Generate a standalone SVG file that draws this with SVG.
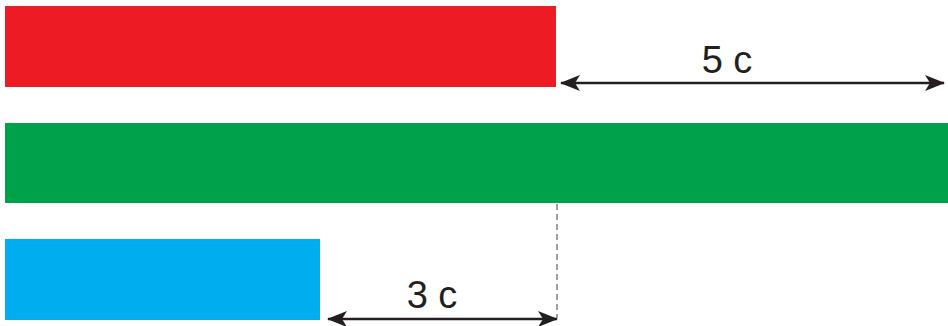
<svg xmlns="http://www.w3.org/2000/svg" width="948" height="326" viewBox="0 0 948 326">
<defs>
<marker id="ah" viewBox="0 0 20 16" refX="19" refY="8" markerWidth="20" markerHeight="16" markerUnits="userSpaceOnUse" orient="auto-start-reverse">
<path d="M0,0 L20,8 L0,16 L5,8 Z" fill="#231f20"/>
</marker>
</defs>
<style>
.lbl{font-family:"Liberation Sans",Arial,sans-serif;font-size:38px;fill:#231f20;text-anchor:middle}
.dim{stroke:#231f20;stroke-width:2.5;fill:none}
</style>
<rect width="948" height="326" fill="#fff"/>
<g id="red"><rect x="5" y="6" width="551" height="81" fill="#ed1c24"/></g>
<g id="green"><rect x="5" y="123" width="943" height="80" fill="#00a14b"/></g>
<g id="blue"><rect x="5" y="239" width="315" height="81" fill="#00aeef"/></g>
<g id="connectors">
<line x1="557" y1="204" x2="557" y2="318" stroke="#808080" stroke-width="1.5" stroke-dasharray="6,4"/>
<line class="dim" x1="561" y1="83" x2="944" y2="83" marker-start="url(#ah)" marker-end="url(#ah)"/>
<line class="dim" x1="328" y1="319" x2="557" y2="319" marker-start="url(#ah)" marker-end="url(#ah)"/>
</g>
<text class="lbl" x="727" y="73">5 c</text>
<text class="lbl" x="432" y="308">3 c</text>
</svg>
